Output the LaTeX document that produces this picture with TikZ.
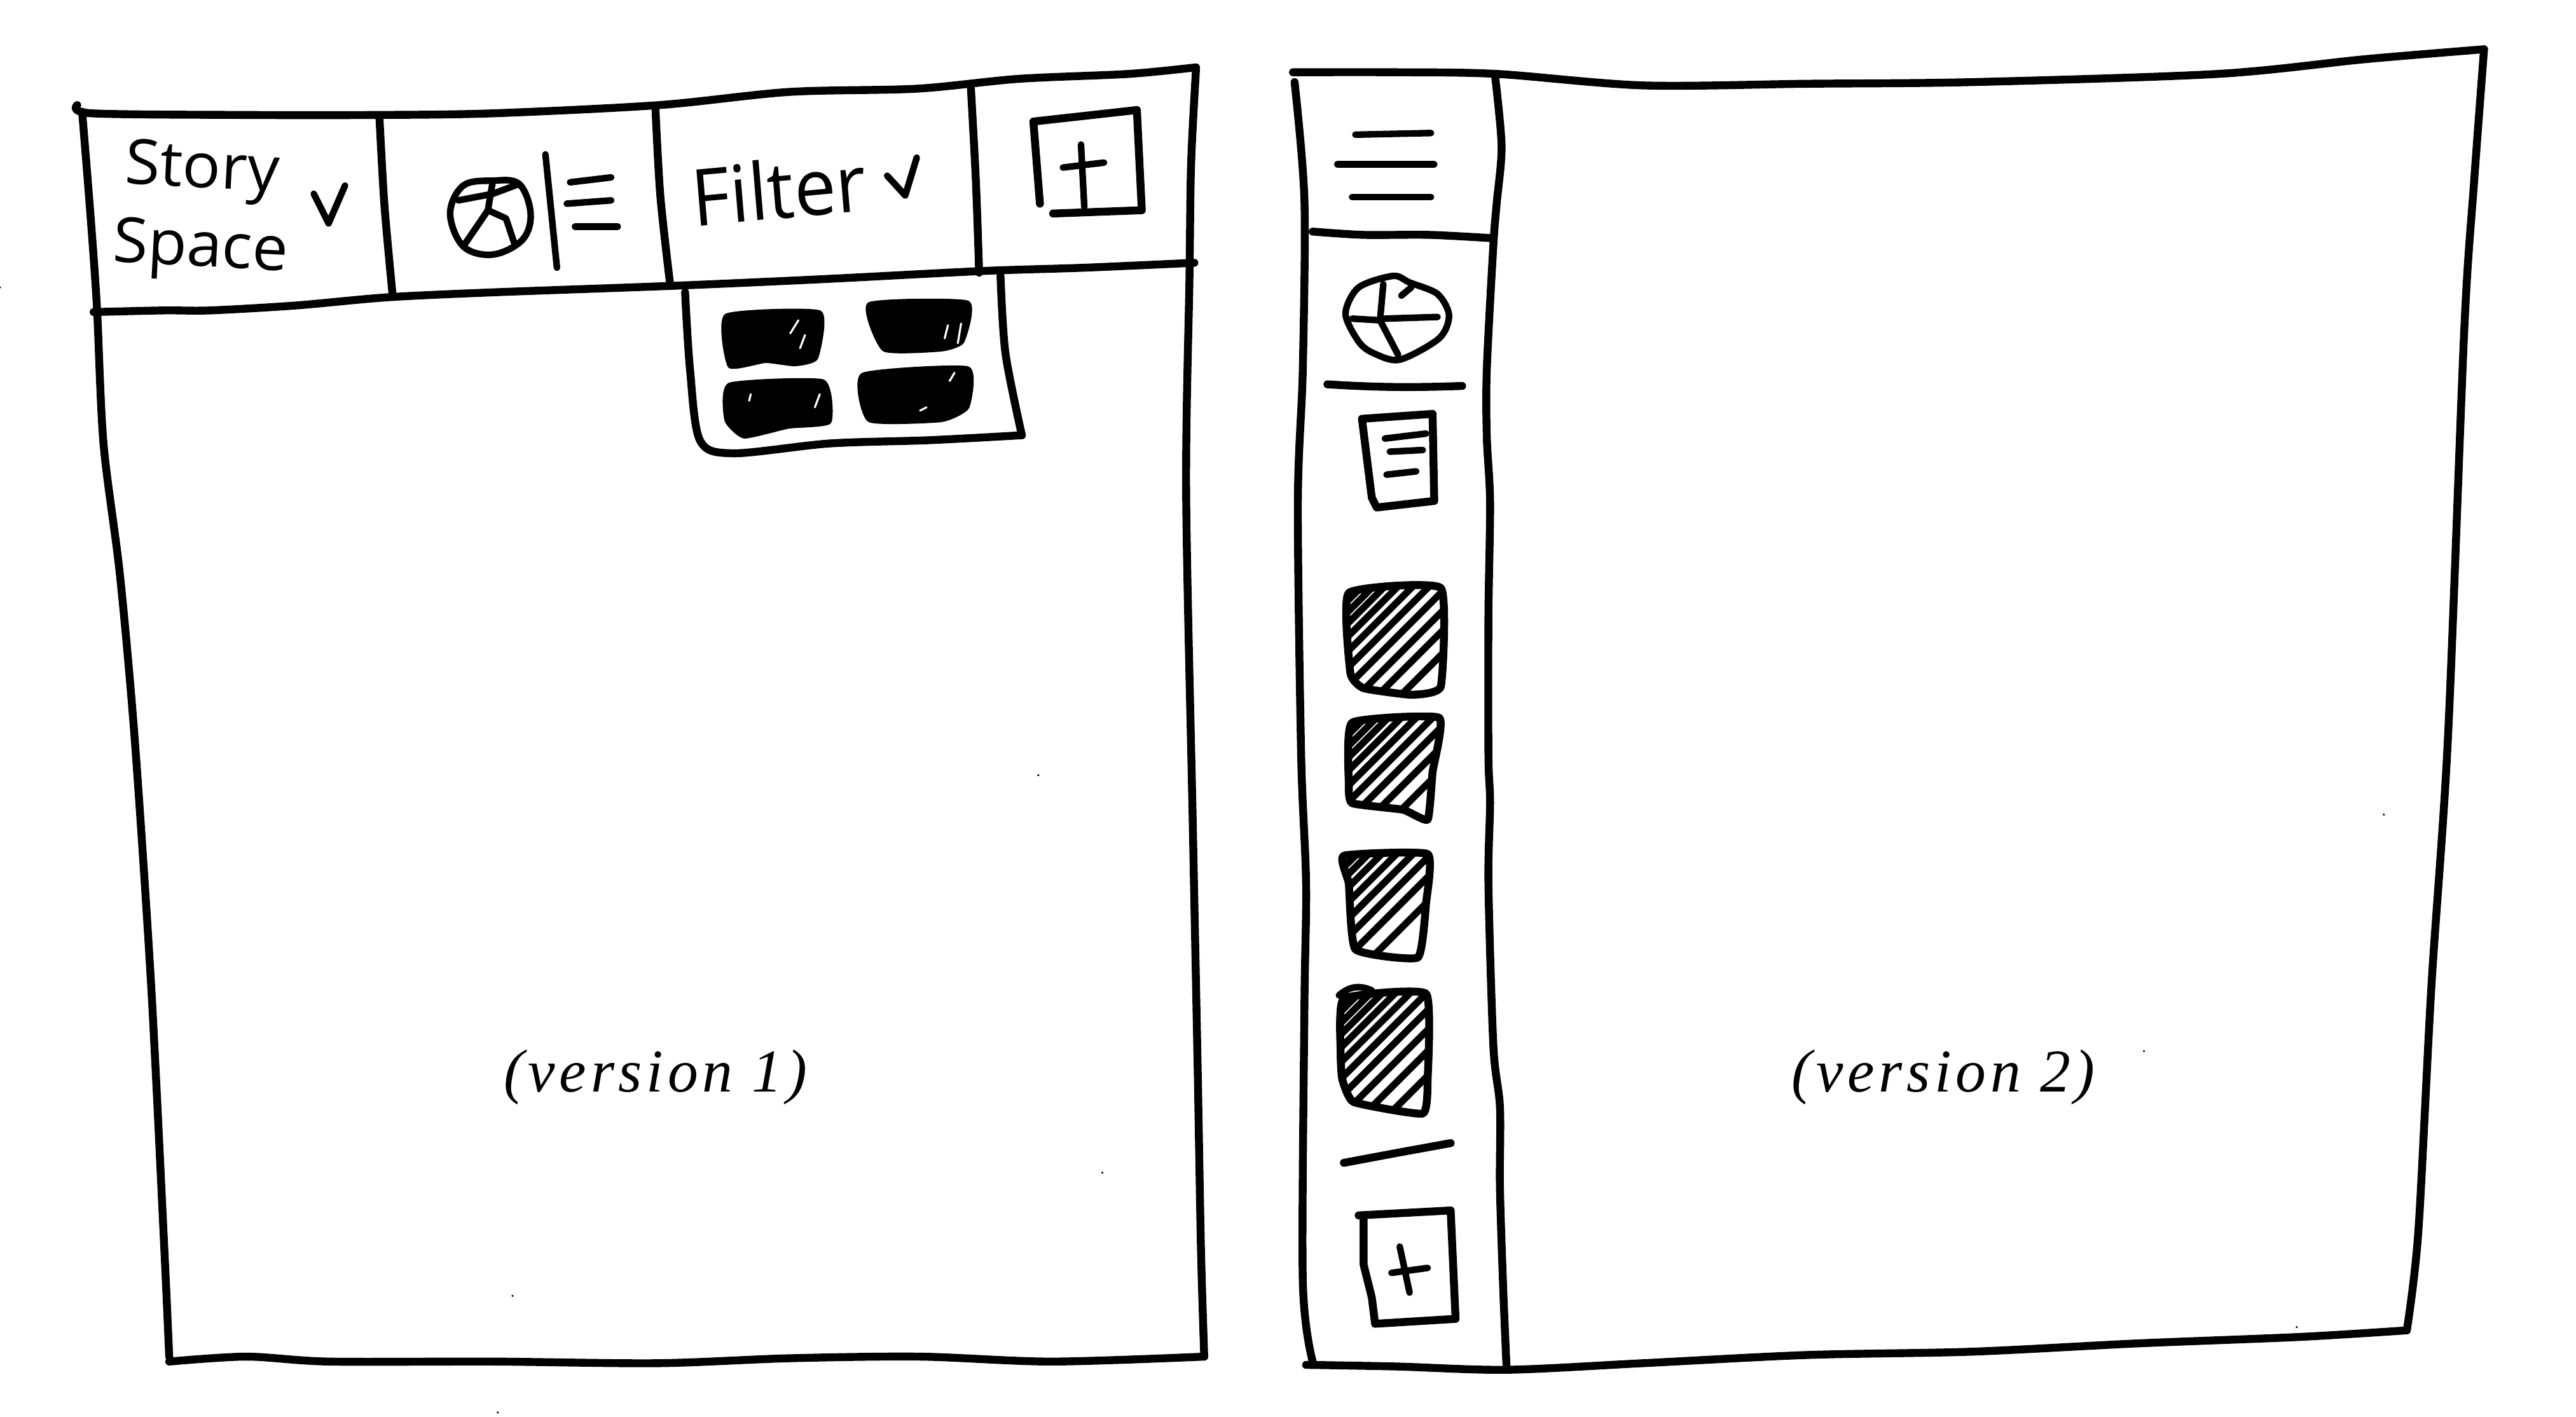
\documentclass[tikz,border=0pt]{standalone}
\usepackage{fontspec}
\setmainfont{Liberation Serif}
\newfontfamily\capfont[LetterSpace=7]{Liberation Serif}
\newfontfamily\handfont{Open Sans}
\tikzset{
  ink/.style={draw=black,line width=4.8pt,line cap=round,line join=round},
  thinink/.style={draw=black,line width=4pt,line cap=round,line join=round},
  blob/.style={fill=black,draw=black,line width=2pt,line join=round},
  hatchline/.style={draw=black,line width=4.2pt,line cap=round},
  speck/.style={fill=black,draw=none},
  caption/.style={font=\capfont\itshape\fontsize{37}{41}\selectfont,inner sep=0pt},
  hand/.style={font=\handfont\fontsize{38}{40}\selectfont,inner sep=0pt,xscale=1.02}
}
\newcommand{\hatchbox}[2]{%
  \begin{scope}
    \clip plot[smooth cycle,tension=.25] coordinates {#1};
    \foreach \c in {#2} \draw[hatchline] (\c-700,700) -- (\c-300,300);
  \end{scope}
  \draw[ink] plot[smooth cycle,tension=.25] coordinates {#1};
}
\begin{document}
\begin{tikzpicture}[x=1pt,y=-1pt]
\useasboundingbox (0,0) rectangle (1568,862.4);
\fill[white] (0,0) rectangle (1568,862.4);
% ---------- version 1 frame
\draw[ink] plot[smooth,tension=.5] coordinates {(47,64) (56,69) (150,70) (230,70) (300,69) (401,64) (480,56) (558,54) (620,48) (687,45) (728,41)};
\draw[ink] plot[smooth,tension=.5] coordinates {(50,68) (55,130) (59,187) (63,270) (73,350) (82,450) (92,600) (100,760) (103,826)};
\draw[ink] plot[smooth,tension=.5] coordinates {(103,829) (150,826) (200,829) (300,829) (400,830) (480,827) (560,826) (640,829) (733,826)};
\draw[ink] plot[smooth,tension=.5] coordinates {(728,42) (725,100) (724,170) (722,300) (726,500) (729,650) (731,760) (733,826)};
\draw[ink] plot[smooth,tension=.5] coordinates {(57,190) (100,189) (128,189) (180,186) (236,181) (300,178) (410,174) (500,170) (598,165) (660,163) (727,160)};
\draw[ink] plot[smooth,tension=.5] coordinates {(231,72) (234,125) (239,180)};
\draw[ink] plot[smooth,tension=.5] coordinates {(399,67) (402,120) (408,174)};
\draw[ink] plot[smooth,tension=.5] coordinates {(591,54) (594,110) (596,166)};
% popup
\draw[ink] plot[smooth,tension=.5] coordinates {(417,178) (420,225) (426,268) (446,276) (505,270) (566,268) (622,265)};
\draw[ink] plot[smooth,tension=.5] coordinates {(609,168) (612,215) (622,265)};
\draw[blob] plot[smooth cycle,tension=.3] coordinates {(442,192) (499,190) (497,218) (484,222) (466,220) (444,223)};
\draw[blob] plot[smooth cycle,tension=.3] coordinates {(529,185) (589,184) (586,208) (573,213) (538,213)};
\draw[blob] plot[smooth cycle,tension=.3] coordinates {(444,234) (501,232) (505,257) (480,260) (453,266) (442,256)};
\draw[blob] plot[smooth cycle,tension=.3] coordinates {(525,228) (589,224) (589,248) (573,256) (529,256)};
\draw[white,line width=1.2pt,line cap=round] (481,203)--(486,195) (487,212)--(490,204) (575,206)--(577,198) (583,209)--(585,197) (457,240)--(456,244) (496,248)--(499,240) (578,232)--(581,227) (560,250)--(564,248);
% header contents
\node[hand,rotate=-3] (story) at (123,105) {Story};
\node[hand,rotate=-3] (space) at (122,153) {Space};
\draw[thinink] (191,118) -- (200,136) -- (210,113);
\draw[thinink] plot[smooth cycle,tension=.6] coordinates {(274,130) (282,113) (300,110) (316,112) (323,130) (318,146) (300,155) (282,150)};
\draw[thinink] (279,122) -- (300,118) -- (316,112);
\draw[thinink] (300,110) -- (297,128) -- (282,150);
\draw[thinink] (297,128) -- (308,133) -- (313,148);
\draw[thinink] (332,94) -- (339,163);
\draw[thinink] (347,111) -- (372,108);
\draw[thinink] (345,124) -- (372,122);
\draw[thinink] (350,138) -- (376,138);
\node[hand,xscale=.93,rotate=5,font=\handfont\fontsize{48}{52}\selectfont] (filter) at (474,115) {Filter};
\draw[thinink] (540,107) -- (551,119) -- (558,96);
\draw[ink] (633,124) -- (629,74) -- (692,67) -- (695,128) -- (641,130);
\draw[thinink] (658,88) -- (660,126);
\draw[thinink] (647,102) -- (672,99);
% ---------- version 2 frame
\draw[ink] plot[smooth,tension=.5] coordinates {(787,44) (850,44) (911,45) (1000,52) (1100,51) (1200,50) (1350,45) (1440,36) (1512,30)};
\draw[ink] plot[smooth,tension=.5] coordinates {(788,50) (794,122) (793,225) (790,306) (792,460) (795,538) (794,612) (793,780) (799,829)};
\draw[ink] plot[smooth,tension=.5] coordinates {(795,831) (850,832) (917,834) (1000,830) (1100,825) (1200,823) (1300,818) (1400,814) (1465,810)};
\draw[ink] plot[smooth,tension=.5] coordinates {(1512,30) (1506,110) (1500,200) (1490,450) (1480,600) (1472,750) (1465,810)};
\draw[ink] plot[smooth,tension=.5] coordinates {(910,46) (914,89) (911,124) (909,149) (905,225) (905,266) (907,306) (906,374) (906,460) (907,489) (906,538) (909,637) (913,674) (913,723) (915,785) (917,832)};
\draw[ink] plot[smooth,tension=.5] coordinates {(799,141) (830,143) (870,143) (908,145)};
\draw[thinink] (825,82) -- (871,81);
\draw[thinink] (814,100) -- (873,100);
\draw[thinink] (823,120) -- (871,120);
% pie
\draw[thinink] plot[smooth cycle,tension=.5] coordinates {(819,191) (827,175) (848,168) (858,172) (875,179) (882,192) (876,206) (852,219) (836,215) (827,208)};
\draw[thinink] (842,173) -- (840,195) -- (823,194);
\draw[thinink] (840,195) -- (851,216);
\draw[thinink] (843,194) -- (875,193);
\draw[thinink] (853,180) -- (859,175);
\draw[ink] (808,234) .. controls (840,236) and (860,236) .. (890,235);
% document
\draw[ink] (829,255) -- (872,252) -- (873,305) -- (838,309) -- (835,303) -- cycle;
\draw[thinink] (843,267) -- (868,264);
\draw[thinink] (846,275) -- (866,274);
\draw[thinink] (844,289) -- (862,287);
% hatched
\hatchbox{(821,361) (877,358) (877,418) (859,423) (830,419) (822,410)}{1186,1193,1200,1208,1217,1227,1238,1250,1262,1276}
\hatchbox{(823,440) (876,437) (872,470) (869,499) (854,493) (823,489) (821,477)}{1268,1275,1282,1290,1299,1309,1320,1332,1346}
\hatchbox{(818,521) (869,520) (868,550) (863,583) (825,578) (821,538)}{1346,1353,1361,1370,1380,1391,1403,1418}
\hatchbox{(818,608) (868,605) (869,657) (866,678) (824,671) (817,657) (816,640)}{1432,1439,1446,1454,1463,1473,1484,1496,1509,1524}
\draw[thinink] (815,606) .. controls (822,600) and (828,600) .. (835,603);
\draw[ink] (818,708) -- (850,702) -- (883,696);
% plus
\draw[ink] (827,740) -- (883,737) -- (886,803) -- (837,806) -- (835,790) -- (830,770) -- (830,742);
\draw[thinink] (852,759) -- (858,787);
\draw[thinink] (847,775) -- (869,772);
% captions
\node[caption] (v1) at (399,656) {(version 1)};
\node[caption] (v2) at (1183,656) {(version 2)};
% specks
\foreach \p in {(632,472),(671,714),(312,789),(303,860),(0,175),(1451,496),(1305,640),(1398,808)} \fill[speck] \p circle (.7);
\end{tikzpicture}
\end{document}
